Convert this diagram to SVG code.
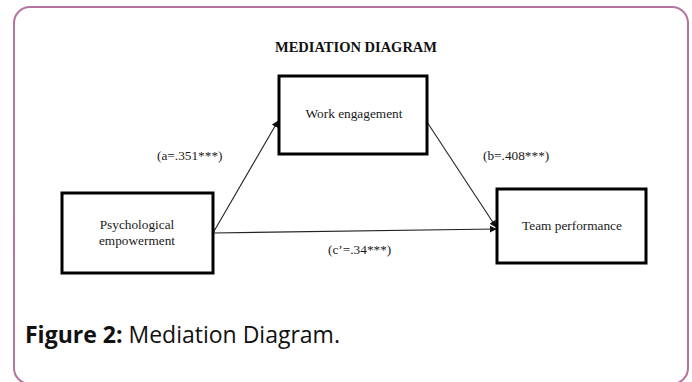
<svg xmlns="http://www.w3.org/2000/svg" width="692" height="382" viewBox="0 0 692 382">
<style>
.frame{fill:none;stroke:#b5739f;stroke-width:2}
.box{fill:#fff;stroke:#000;stroke-width:3}
.t{font-family:"Liberation Serif","Times New Roman",serif;font-size:13.3px;fill:#1a1a1a}
.edge{stroke:#222;stroke-width:1.1;fill:none;marker-end:url(#ah)}
.cap{font-family:"Open Sans","Noto Sans",sans-serif;font-size:23px;fill:#111}
</style>
<defs>
<marker id="ah" viewBox="0 0 10 10" refX="9" refY="5" markerWidth="7" markerHeight="7" markerUnits="userSpaceOnUse" orient="auto">
<path d="M0,0 L10,5 L0,10 z" fill="#111"/>
</marker>
</defs>
<rect x="0" y="0" width="692" height="382" fill="#fff"/>
<rect class="frame" x="14" y="7" width="674" height="377" rx="16" ry="16"/>
<text x="356" y="52" text-anchor="middle" font-family="Liberation Serif,Times New Roman,serif" font-weight="bold" font-size="14.5" fill="#111">MEDIATION DIAGRAM</text>
<g id="connectors">
<line class="edge" x1="213" y1="233" x2="278" y2="121"/>
<line class="edge" x1="427" y1="122" x2="496" y2="227"/>
<line class="edge" x1="213" y1="233" x2="496" y2="229"/>
</g>
<g id="work">
<rect class="box" x="279" y="76" width="148" height="78"/>
<text class="t" x="354" y="118" text-anchor="middle">Work engagement</text>
</g>
<g id="psych">
<rect class="box" x="62" y="193" width="151" height="80"/>
<text class="t" x="137" y="229" text-anchor="middle">Psychological</text>
<text class="t" x="137" y="245" text-anchor="middle">empowerment</text>
</g>
<g id="team">
<rect class="box" x="497" y="189" width="149" height="74"/>
<text class="t" x="572" y="230" text-anchor="middle">Team performance</text>
</g>
<g id="labels">
<text class="t" x="157" y="160">(a=.351***)</text>
<text class="t" x="483" y="160">(b=.408***)</text>
<text class="t" x="328" y="254">(c’=.34***)</text>
</g>
<text class="cap" x="25" y="343"><tspan font-weight="bold">Figure 2:</tspan> Mediation Diagram.</text>
</svg>
